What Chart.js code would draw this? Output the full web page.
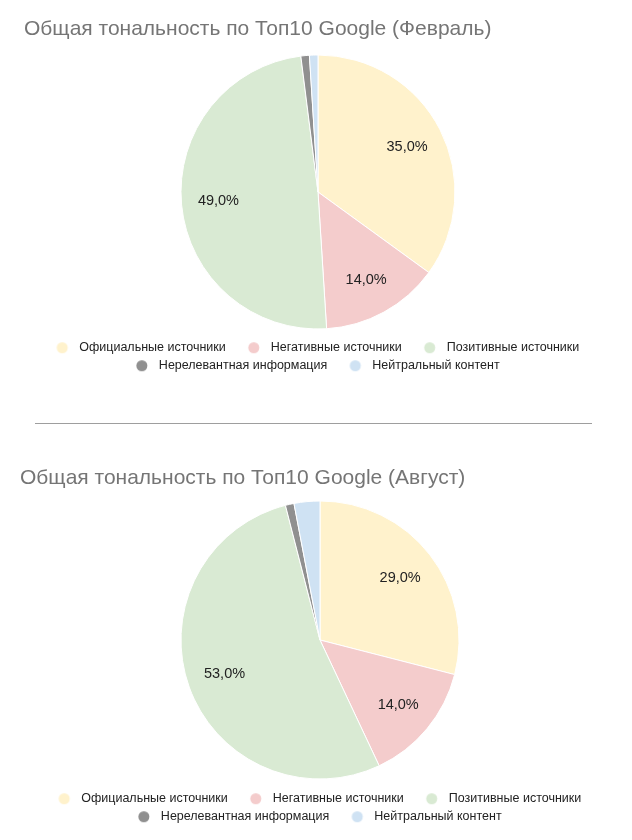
<!DOCTYPE html>
<html><head><meta charset="utf-8">
<script src="https://cdn.jsdelivr.net/npm/chart.js@4.4.1/dist/chart.umd.min.js"></script>
<style>
html,body{margin:0;padding:0;background:#fff;width:632px;height:840px;overflow:hidden;}
.c{position:absolute;left:0;}
.t{position:absolute;font-family:"Liberation Sans",Arial,sans-serif;font-size:21px;color:#757575;line-height:24px;white-space:nowrap;}
.sep{position:absolute;left:35px;width:557px;top:423px;height:1px;background:#9e9e9e;}
</style></head><body>
<canvas id="c1" class="c" width="632" height="400" style="top:0px"></canvas>
<canvas id="c2" class="c" width="632" height="400" style="top:440px"></canvas>
<div class="t" style="left:24px;top:16px">Общая тональность по Топ10 Google (Февраль)</div>
<div class="sep"></div>
<div class="t" style="left:20px;top:465px">Общая тональность по Топ10 Google (Август)</div>
<script>
const categories = ['Официальные источники','Негативные источники','Позитивные источники','Нерелевантная информация','Нейтральный контент'];
const febValues = [35, 14, 49, 1, 1];
const augValues = [29, 14, 53, 1, 3];
const sliceColors = ['#FFF2CC','#F4CCCC','#D9EAD3','#909090','#CFE2F3'];

const FONT = '"Liberation Sans", Arial, sans-serif';
const LEG_FONT = 12.5, LEG_PAD = 5.5, DOT_R = 5.5;
const GAP_BEFORE = 28, GAP_AFTER = 17;
const A = GAP_BEFORE - LEG_PAD;
const BOX_W = GAP_AFTER + A - LEG_FONT / 2;
const IMG_W = 26, IMG_H = 13;
const dotOffset = A - BOX_W / 2;

function dotImage(color){
  const c = document.createElement('canvas');
  c.width = IMG_W; c.height = IMG_H;
  const g = c.getContext('2d');
  g.fillStyle = color;
  g.beginPath();
  g.arc(IMG_W/2 + dotOffset, IMG_H/2, DOT_R, 0, Math.PI*2);
  g.fill();
  return c;
}
const dots = sliceColors.map(dotImage);

const sliceLabels = {
  id: 'sliceLabels',
  afterDatasetsDraw(chart){
    const ctx = chart.ctx;
    const meta = chart.getDatasetMeta(0);
    const data = chart.data.datasets[0].data;
    ctx.save();
    ctx.font = '14.5px ' + FONT;
    ctx.fillStyle = '#222222';
    ctx.textAlign = 'center';
    ctx.textBaseline = 'middle';
    meta.data.forEach((arc, i) => {
      if (data[i] < 5) return;
      const p = arc.getProps(['x','y','startAngle','endAngle','outerRadius'], true);
      const a = (p.startAngle + p.endAngle) / 2;
      const r = p.outerRadius * 0.73;
      ctx.fillText(data[i].toFixed(1).replace('.', ',') + '%', p.x + Math.cos(a) * r, p.y + Math.sin(a) * r);
    });
    ctx.restore();
  }
};
const legendShift = {
  id: 'legendShift',
  afterLayout(chart){
    const l = chart.legend;
    if (l) { const s = (A - DOT_R) / 2; l.left -= s; l.right -= s; }
  }
};

function makeChart(id, values, radius, padding){
  return new Chart(document.getElementById(id), {
    type: 'pie',
    data: {
      labels: categories,
      datasets: [{
        data: values,
        backgroundColor: sliceColors,
        borderColor: '#ffffff',
        borderWidth: 1
      }]
    },
    options: {
      responsive: false,
      animation: false,
      radius: radius,
      layout: { padding: padding },
      plugins: {
        tooltip: { enabled: false },
        legend: {
          position: 'bottom',
          labels: {
            usePointStyle: true,
            pointStyleWidth: BOX_W,
            boxHeight: 8,
            padding: LEG_PAD,
            color: '#222222',
            font: { family: FONT, size: LEG_FONT },
            generateLabels(chart){
              const items = Chart.overrides.pie.plugins.legend.labels.generateLabels(chart);
              items.forEach((it, i) => { it.pointStyle = dots[i]; });
              return items;
            }
          }
        }
      }
    },
    plugins: [sliceLabels, legendShift]
  });
}

makeChart('c1', febValues, 137, { top: 48, bottom: 18, left: 4, right: 0 });
makeChart('c2', augValues, 139, { top: 53, bottom: 7, left: 8, right: 0 });
</script>
</body></html>
